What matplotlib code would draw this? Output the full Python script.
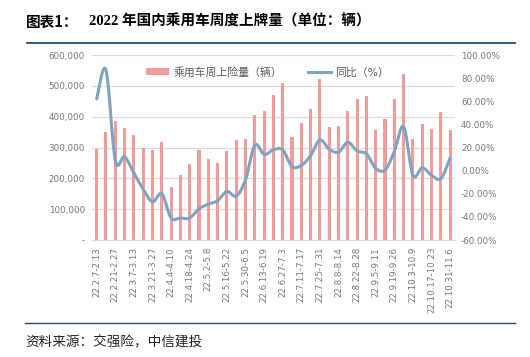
import matplotlib
matplotlib.use("Agg")
import matplotlib.pyplot as plt
from matplotlib.path import Path
from matplotlib.patches import PathPatch, Patch
from matplotlib.lines import Line2D
from matplotlib.ticker import FuncFormatter
import numpy as np

plt.rcParams['font.family'] = ['DejaVu Sans', 'Noto Sans CJK SC']

# weekly periods, 2022
weeks = ['22.2.7-2.13', '22.2.14-2.20', '22.2.21-2.27', '22.2.28-3.6',
         '22.3.7-3.13', '22.3.14-3.20', '22.3.21-3.27', '22.3.28-4.3',
         '22.4.4-4.10', '22.4.11-4.17', '22.4.18-4.24', '22.4.25-5.1',
         '22.5.2-5.8', '22.5.9-5.15', '22.5.16-5.22', '22.5.23-5.29',
         '22.5.30-6.5', '22.6.6-6.12', '22.6.13-6.19', '22.6.20-6.26',
         '22.6.27-7.3', '22.7.4-7.10', '22.7.11-7.17', '22.7.18-7.24',
         '22.7.25-7.31', '22.8.1-8.7', '22.8.8-8.14', '22.8.15-8.21',
         '22.8.22-8.28', '22.8.29-9.4', '22.9.5-9.11', '22.9.12-9.18',
         '22.9.19-9.26', '22.9.26-10.2', '22.10.3-10.9', '22.10.10-10.16',
         '22.10.17-10.23', '22.10.24-10.30', '22.10.31-11.6']

# registrations (vehicles)
regs = [295000, 350000, 386000, 362000, 340000, 300000, 292000, 318000,
        171000, 210000, 248000, 292000, 263000, 250000, 288000, 323000,
        328000, 406000, 418000, 469000, 510000, 333000, 378000, 425000,
        521000, 365000, 371000, 420000, 457000, 467000, 356000, 391000,
        457000, 540000, 328000, 375000, 360000, 416000, 358000]

# year-on-year change (%)
yoy = [62, 87, 9, 12, -2, -16, -27, -20, -41, -41, -41, -33, -29, -26,
       -18, -22, -8, 22, 14, 18, 18, 3.5, 4.5, 13, 26.5, 18.5, 16, 24.5,
       17, 14.5, 2, 0.5, 16.5, 38, -4, 2.5, -4, -7, 11]

bar_color = '#F29B9B'
line_color = '#7FA3BE'
tick_color = '#767676'

fig = plt.figure(figsize=(5.3, 3.57), dpi=100)
ax = fig.add_axes([0.1736, 0.3277, 0.6845, 0.5182])
ax2 = ax.twinx()

x = np.arange(len(weeks))
ax.bar(x, regs, width=0.33, color=bar_color, zorder=2)

ax.set_xlim(-0.5, len(weeks) - 0.5)
ax.set_ylim(0, 600000)
ax.set_yticks(np.arange(0, 600001, 100000))
ax.yaxis.set_major_formatter(FuncFormatter(lambda v, p: '-' if v == 0 else f'{int(v):,}'))
ax.grid(axis='y', color='#D9D9D9', lw=0.8, zorder=0)
ax.set_axisbelow(True)

ax.set_xticks(x[::2])
ax.set_xticklabels(weeks[::2], rotation=90)

for a in (ax, ax2):
    for s in a.spines.values():
        s.set_visible(False)
ax.spines['bottom'].set_visible(True)
ax.spines['bottom'].set_color('#D9D9D9')

ax.tick_params(axis='both', length=0, labelsize=6.3, colors=tick_color)
ax.tick_params(axis='y', pad=5)
ax.tick_params(axis='x', pad=5)

# smooth line for yoy (bezier through the points)
ax2.set_ylim(-60, 100)
ax2.set_yticks(np.arange(-60, 101, 20))
ax2.yaxis.set_major_formatter(FuncFormatter(lambda v, p: f'{v:.2f}%'))
ax2.tick_params(axis='y', length=0, labelsize=6.3, colors=tick_color, pad=4.5)

pts = np.column_stack([x, yoy]).astype(float)
verts = [tuple(pts[0])]
codes = [Path.MOVETO]
n = len(pts)
for i in range(n - 1):
    p0 = pts[max(i - 1, 0)]
    p1 = pts[i]
    p2 = pts[i + 1]
    p3 = pts[min(i + 2, n - 1)]
    c1 = p1 + (p2 - p0) / 6
    c2 = p2 - (p3 - p1) / 6
    verts += [tuple(c1), tuple(c2), tuple(p2)]
    codes += [Path.CURVE4] * 3
ax2.add_patch(PathPatch(Path(verts, codes), fill=False, edgecolor=line_color,
                        lw=2.2, capstyle='round', joinstyle='round', zorder=3))

handles = [Patch(facecolor=bar_color, edgecolor='none'),
           Line2D([], [], color=line_color, lw=2.2)]
leg = ax2.legend(handles, ['乘用车周上险量（辆）', '同比（%）'], loc='center',
                 bbox_to_anchor=(0.484, 0.908), ncol=2, frameon=False,
                 fontsize=7.8, handlelength=2.1, handleheight=0.6,
                 columnspacing=2.4, handletextpad=0.4)
for t in leg.get_texts():
    t.set_color('#595959')

# header and footer
fig.text(0.049, 0.94, '图表1：', fontsize=10.5, fontweight='bold',
         family='Noto Sans CJK SC', va='center', ha='left', color='black')
fig.text(0.168, 0.94, '2022 年国内乘用车周度上牌量（单位：辆）', fontsize=10.5,
         fontweight='bold', family=['Liberation Serif', 'Noto Sans CJK SC'],
         va='center', ha='left', color='black')
fig.add_artist(Line2D([0.051, 0.972], [0.8796, 0.8796], color='#1F4E79', lw=1.3))
fig.add_artist(Line2D([0.047, 0.972], [0.0952, 0.0952], color='#1F4E79', lw=1.0))
fig.text(0.047, 0.045, '资料来源：交强险，中信建投', fontsize=9.8,
         family='Noto Sans CJK SC', va='center', ha='left', color='#222222')

fig.savefig('out.png', dpi=100)
